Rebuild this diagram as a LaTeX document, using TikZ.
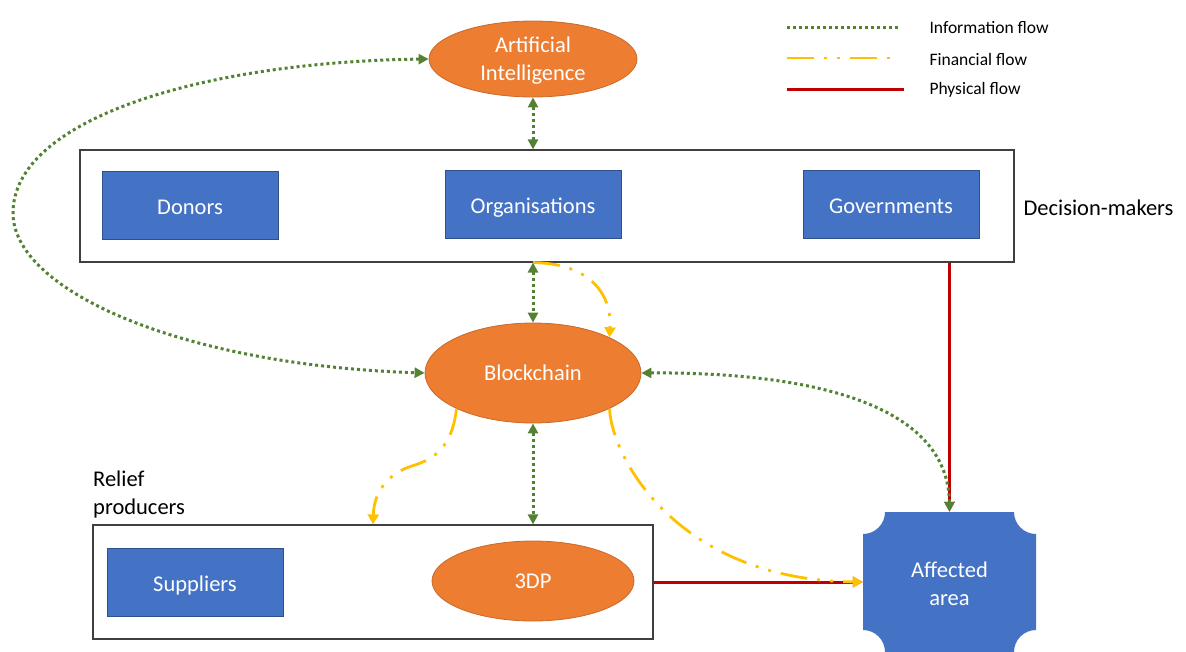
\documentclass[tikz,border=0pt]{standalone}
\usepackage{fontspec}
\setmainfont{Carlito}
\usetikzlibrary{arrows.meta,shapes.geometric}
\definecolor{nodeorange}{HTML}{ED7D31}
\definecolor{nodeblue}{HTML}{4472C4}
\definecolor{infogreen}{HTML}{548235}
\definecolor{fingold}{HTML}{FFC000}
\definecolor{physred}{HTML}{C00000}

\begin{document}
\begin{tikzpicture}[x=1pt, y=-1pt,
  tech/.style={ellipse, fill=nodeorange, draw=nodeorange!85!black, line width=0.8pt,
    text=white, align=center, inner sep=0pt, font=\fontsize{22.5}{28}\selectfont},
  actor/.style={rectangle, fill=nodeblue, draw=nodeblue!70!black, line width=0.8pt,
    text=white, minimum width=176pt, minimum height=68pt, text height=18pt, text depth=0pt,
    font=\fontsize{22.5}{28}\selectfont},
  group/.style={rectangle, draw=black!75, line width=1.2pt},
  info/.style={infogreen, line width=3pt, dash pattern=on 3pt off 3pt,
    {Triangle[length=10pt,width=10pt]}-{Triangle[length=10pt,width=10pt]}},
  money/.style={fingold, line width=2.8pt,
    dash pattern=on 27pt off 10pt on 3pt off 10pt on 3pt off 10pt,
    -{Triangle[length=10pt,width=11pt]}},
  goods/.style={physred, line width=3pt, -{Triangle[length=10pt,width=10pt]}},
  lbl/.style={font=\fontsize{22.5}{28}\selectfont, align=left},
  legendtxt/.style={font=\fontsize{17.5}{21}\selectfont, anchor=west}]
\useasboundingbox (0,0) rectangle (1186,651);

% decision-makers
\node[group, minimum width=934pt, minimum height=112pt] (dm) at (547,206) {};
\node[actor] (donors) at (190,205) {Donors};
\node[actor] (org) at (533,204) {Organisations};
\node[actor] (gov) at (891,204) {Governments};
\node[lbl, anchor=west] (dmlabel) at (1020,208) {Decision-makers};

% technologies
\node[tech, minimum width=208pt, minimum height=76pt] (ai) at (533,59) {\strut Artificial\\Intelligence};
\node[tech, minimum width=216pt, minimum height=100pt] (bc) at (533,373) {Blockchain};

% relief producers
\node[group, minimum width=560pt, minimum height=114pt] (rp) at (373,582) {};
\node[actor] (sup) at (195,582) {Suppliers};
\node[tech, minimum width=202pt, minimum height=80pt] (tdp) at (533,581) {3DP};
\node[lbl, anchor=south west, inner sep=0pt] (rplabel) at (93,518) {Relief\\producers};

% affected area
\fill[nodeblue] (885,512) -- (1014,512) arc[start angle=180, end angle=90, radius=22]
  -- (1036,630) arc[start angle=270, end angle=180, radius=22]
  -- (885,652) arc[start angle=0, end angle=-90, radius=22]
  -- (863,534) arc[start angle=90, end angle=0, radius=22] -- cycle;
\node[minimum width=173pt, minimum height=140pt, text=white, align=center,
  font=\fontsize{22.5}{28}\selectfont] (aff) at (949.5,582) {\strut Affected\\area};

% physical flow
\draw[goods] (aff |- dm.south) -- (aff.north);
\draw[goods] (rp.east) -- (aff.west);

% financial flow
\draw[money] (org |- dm.south) .. controls (585,263) and (612,290) .. (bc.25);
\draw[money] (bc.205) .. controls (453,440) and (440,457) .. (415,465)
  .. controls (390,472) and (374,490) .. (rp.north);
\draw[money] (bc.-25) .. controls (612,460) and (680,580) .. (aff.west);

% information flow
\draw[info] (ai.south) -- (ai |- dm.north);
\draw[info] (org |- dm.south) -- (bc.north);
\draw[info] (bc.south) -- (bc |- rp.north);
\draw[info] (ai.west) .. controls (200,62) and (13,120) .. (13,213)
  .. controls (13,290) and (180,365) .. (bc.west);
\draw[info] (bc.east) .. controls (800,372) and (948,400) .. (aff.north);

% legend
\draw[infogreen, line width=3pt, dash pattern=on 3pt off 3pt] (787,27) -- (900,27);
\draw[fingold, line width=2.8pt, dash pattern=on 27pt off 10pt on 3pt off 10pt on 3pt off 10pt] (787,58) -- (897,58);
\draw[physred, line width=3pt] (787,89) -- (904,89);
\node[legendtxt] (leginfo) at (926,28) {Information flow};
\node[legendtxt] (legfin) at (926,59) {Financial flow};
\node[legendtxt] (legphys) at (926,90) {Physical flow};
\end{tikzpicture}
\end{document}
